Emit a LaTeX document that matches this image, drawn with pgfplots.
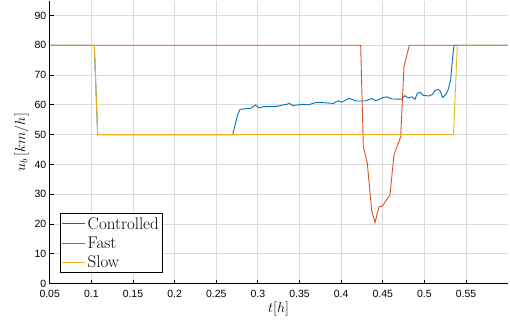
\documentclass[border=0pt]{standalone}
\usepackage{fontspec}
\usepackage{pgfplots}
\pgfplotsset{compat=1.18}
\newfontfamily\helv{Liberation Sans}
\definecolor{mblue}{rgb}{0,0.447,0.741}
\definecolor{mred}{rgb}{0.85,0.325,0.098}
\definecolor{myellow}{rgb}{0.929,0.694,0.125}
\begin{document}
\begin{tikzpicture}
\begin{axis}[
  scale only axis, width=457.9bp, height=283.1bp,
  xmin=0.05, xmax=0.6, ymin=0, ymax=95,
  axis lines*=left,
  axis line style={line width=0.8bp, black},
  xtick={0.05,0.1,...,0.56}, ytick={0,10,...,90},
  xtick pos=bottom, ytick pos=left,
  tick align=inside, major tick length=4bp,
  tick style={black, line width=0.8bp},
  scaled x ticks=false,
  xticklabel style={/pgf/number format/fixed, /pgf/number format/precision=2, yshift=-2.5bp},
  /pgf/number format/assume math mode=true,
  tick label style={font=\helv\fontsize{10.5}{12}\selectfont},
  xmajorgrids, ymajorgrids,
  grid style={gray!28, line width=0.8bp},
  xlabel={$t[h]$}, ylabel={$u_b\,[km/h]$},
  label style={font=\fontsize{14.4}{17}\selectfont},
  xlabel style={yshift=2bp},
  ylabel style={yshift=-1bp},
  legend style={at={(rel axis cs:0.0225,0.039)}, anchor=south west, draw=black, line width=0.6bp,
    font=\fontsize{17}{20}\selectfont, inner sep=1.5bp, row sep=2bp},
  legend cell align=left,
  legend image code/.code={\draw[#1, line width=0.9bp] (0bp,0bp) -- (23bp,0bp);},
  every axis plot/.append style={line width=0.9bp},
]
\addplot[mblue] coordinates {
(0.05,80)(0.1036,80)(0.1076,50)(0.2698,50)(0.2758,56.8)(0.2786,58.5)(0.2918,58.9)
(0.2974,60)(0.3014,59)(0.3066,59.4)(0.3226,59.5)(0.3287,59.9)(0.3347,60.2)(0.3378,60.5)
(0.3419,59.8)(0.3546,60.2)(0.3606,60)(0.3707,60.9)(0.3906,60.5)(0.3966,61.4)(0.4007,60.9)
(0.4095,62.2)(0.4187,61.3)(0.4287,61.3)(0.4367,62.1)(0.4419,61.4)(0.4507,62.5)(0.4555,62.7)
(0.4608,62)(0.4728,61.9)(0.4767,63.1)(0.4807,62.3)(0.4848,62.7)(0.4888,61.9)(0.4915,63.9)
(0.4948,64.2)(0.4987,63.2)(0.5059,63)(0.51,63.6)(0.5128,64.8)(0.5167,65.2)(0.5188,64.8)
(0.5220,62.5)(0.526,63.6)(0.5287,65.2)(0.5316,68.4)(0.5335,74.5)(0.5356,80)(0.6,80)
};
\addlegendentry{Controlled}
\addplot[mred] coordinates {
(0.05,80)(0.4235,80)(0.4267,46)(0.4315,40.4)(0.4367,24.7)(0.4407,20.5)(0.4455,25.8)
(0.4495,26)(0.4587,29.8)(0.4635,43.2)(0.4716,49.3)(0.4755,72.8)(0.4819,80)(0.6,80)
};
\addlegendentry{Fast}
\addplot[myellow] coordinates {
(0.05,80)(0.1036,80)(0.1076,50)(0.535,50)(0.5396,80)(0.6,80)
};
\addlegendentry{Slow}
\coordinate (ll) at (rel axis cs:0,0);
\coordinate (ur) at (rel axis cs:1,1);
\end{axis}
\pgfresetboundingbox
\path[use as bounding box] ([shift={(-49.7bp,-40.3bp)}]ll) rectangle ([shift={(2.4bp,0.6bp)}]ur);
\end{tikzpicture}
\end{document}
